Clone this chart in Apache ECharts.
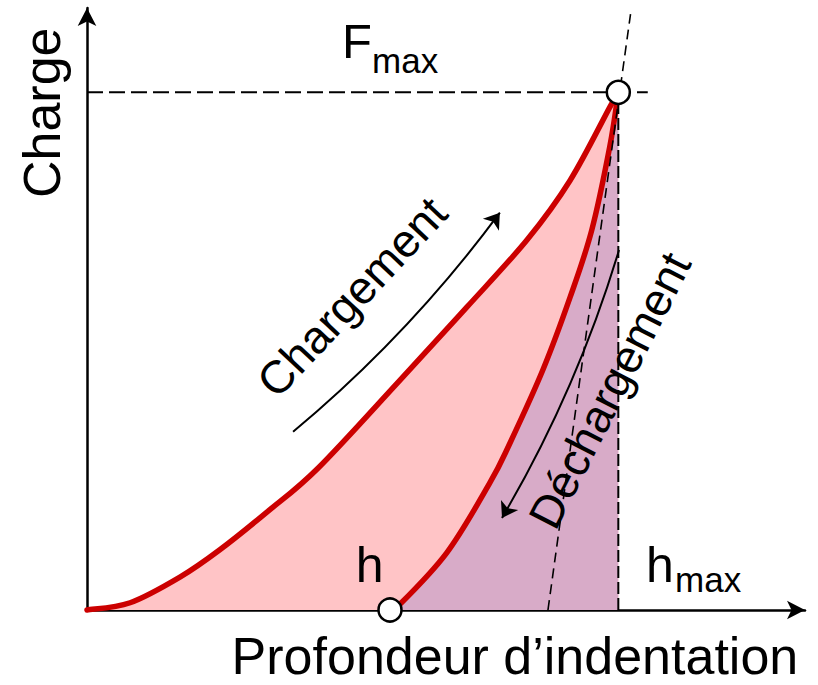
<!DOCTYPE html>
<html>
<head>
<meta charset="utf-8">
<script src="https://cdn.jsdelivr.net/npm/echarts@6/dist/echarts.min.js"></script>
<style>
html,body{margin:0;padding:0;background:#fff;}
#chart{width:818px;height:685px;}
</style>
</head>
<body>
<div id="chart"></div>
<script>
// ---- data ----
const loadDepth   = [0, 6.0, 13.0, 18.5, 25.1, 32.2, 43.6, 52.9, 61.3, 67.3, 72.8, 74.0];
const loadForce   = [0, 1.2, 5.5, 10.0, 16.3, 23.6, 38.2, 50.3, 61.5, 71.4, 83.5, 86.0];
const unloadDepth = [42.2, 43.2, 50.1, 56.1, 58.9, 63.5, 67.3, 70.3, 72.8, 74.0];
const unloadForce = [0, 0.5, 9.5, 21.1, 27.7, 39.9, 52.0, 63.1, 76.9, 86.0];
const hMax = 74.0;          // depth at maximum load
const fMax = 86.0;          // maximum load
const hResidual = 42.2;     // residual depth h
const tangentDepth = [64.2, 75.7];
const tangentForce = [0, 99];
const labels = {
  yTitle: 'Charge',
  xTitle: 'Profondeur d\u2019indentation',
  load: 'Chargement',
  unload: 'D\u00e9chargement',
  f: 'F', h: 'h', sub: 'max'
};

const pairs = (xs, ys) => xs.map((x, i) => [x, ys[i]]);
const FONT = "'Liberation Sans', Arial, sans-serif";

// smooth path (Catmull-Rom -> cubic Bezier) through pixel points
function splinePath(p) {
  let d = 'M' + p[0][0] + ',' + p[0][1];
  for (let i = 0; i < p.length - 1; i++) {
    const p0 = p[i - 1] || p[i], p1 = p[i], p2 = p[i + 1], p3 = p[i + 2] || p[i + 1];
    const c1 = [p1[0] + (p2[0] - p0[0]) / 6, p1[1] + (p2[1] - p0[1]) / 6];
    const c2 = [p2[0] - (p3[0] - p1[0]) / 6, p2[1] - (p3[1] - p1[1]) / 6];
    d += ' C' + c1[0] + ',' + c1[1] + ' ' + c2[0] + ',' + c2[1] + ' ' + p2[0] + ',' + p2[1];
  }
  return d;
}

function curveSeries(xs, ys, fill, z) {
  return {
    type: 'custom', coordinateSystem: 'cartesian2d', clip: false, z: z, silent: true,
    data: [[xs[xs.length - 1], ys[ys.length - 1]]],
    renderItem: function (params, api) {
      const pts = xs.map((x, i) => api.coord([x, ys[i]]));
      const line = splinePath(pts);
      const base = api.coord([0, 0])[1];
      const last = pts[pts.length - 1], first = pts[0];
      const area = line + ' L' + last[0] + ',' + base + ' L' + first[0] + ',' + base + ' Z';
      return {
        type: 'group',
        children: [
          {type: 'path', shape: {pathData: area}, style: {fill: fill, stroke: null}},
          {type: 'path', shape: {pathData: line},
           style: {fill: null, stroke: '#CC0000', lineWidth: 5.5, lineJoin: 'round', lineCap: 'round'}}
        ]
      };
    }
  };
}

function textPoint(x, y, text, size, rotate, lh) {
  return {
    value: [x, y],
    label: {
      show: true, position: 'inside', formatter: text,
      fontSize: size, fontFamily: FONT, color: '#000', opacity: 1,
      lineHeight: lh || size,
      rotate: rotate || 0, align: 'center', verticalAlign: 'middle'
    }
  };
}

const chart = echarts.init(document.getElementById('chart'), null, {renderer: 'svg'});

const axisCommon = {
  type: 'value', min: 0, max: 100,
  axisLine: {show: true, symbol: ['none', 'arrow'], symbolSize: [14, 18],
             lineStyle: {color: '#000', width: 2.5}},
  axisTick: {show: false}, axisLabel: {show: false}, splitLine: {show: false}
};

chart.setOption({
  animation: false,
  grid: {left: 87, top: 8, width: 718, height: 602},
  xAxis: axisCommon,
  yAxis: axisCommon,
  series: [
    curveSeries(loadDepth, loadForce, '#FFC4C6', 2),     // loading curve + pink area
    curveSeries(unloadDepth, unloadForce, '#D8ABC8', 3), // unloading curve + purple area
    { // horizontal dashed at Fmax
      type: 'line', data: [[0, fMax], [78.1, fMax]], symbol: 'none', z: 4,
      lineStyle: {color: '#000', width: 2, type: [16, 6]}
    },
    { // vertical dashed at hmax
      type: 'line', data: [[hMax, 0], [hMax, fMax - 1]], symbol: 'none', z: 4,
      lineStyle: {color: '#000', width: 2, type: [12, 4]}
    },
    { // tangent line
      type: 'line', data: pairs(tangentDepth, tangentForce), symbol: 'none', z: 4,
      lineStyle: {color: '#000', width: 1.6, type: [10, 6]}
    },
    { // direction arrows
      type: 'lines', coordinateSystem: 'cartesian2d', z: 5,
      symbol: ['none', 'arrow'], symbolSize: 15,
      lineStyle: {color: '#000', width: 2, opacity: 1},
      data: [
        {coords: [[28.7, 29.6], [57.5, 66.0]], lineStyle: {curveness: -0.06}},
        {coords: [[74.1, 59.8], [57.8, 15.3]], lineStyle: {curveness: 0.06}}
      ]
    },
    { // marker circles
      type: 'scatter', clip: false, z: 10, symbol: 'circle', symbolSize: 23,
      itemStyle: {color: '#fff', borderColor: '#000', borderWidth: 2.5, opacity: 1},
      data: [[hMax, fMax], [hResidual, 0]]
    },
    { // text annotations
      type: 'scatter', clip: false, z: 12, symbolSize: 1, silent: true,
      itemStyle: {color: 'rgba(0,0,0,0)'},
      data: [
        textPoint(-6.3, 82.6, labels.yTitle, 52, 90),
        textPoint(59.6, -7.7, labels.xTitle, 52, 0, 40),
        textPoint(37.6, 94.6, labels.f, 49, 0),
        textPoint(44.3, 91.2, labels.sub, 35, 0),
        textPoint(39.35, 7.5, labels.h, 50, 0),
        textPoint(79.8, 7.5, labels.h, 50, 0),
        textPoint(86.5, 5.0, labels.sub, 35, 0),
        textPoint(36.9, 52.0, labels.load, 46, 47),
        textPoint(72.8, 36.5, labels.unload, 46, 63)
      ]
    }
  ]
});
</script>
</body>
</html>
